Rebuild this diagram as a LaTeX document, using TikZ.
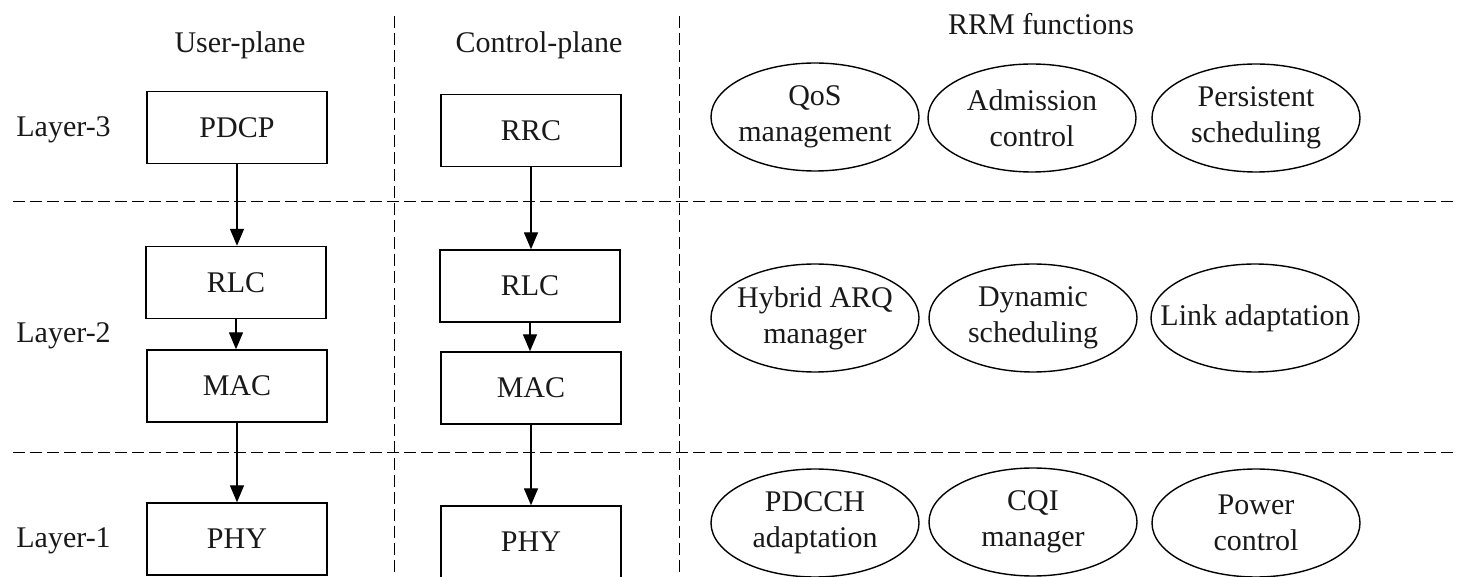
\documentclass[tikz,border=0pt]{standalone}
\usepackage{fontspec}
\setmainfont{Liberation Serif}
\usetikzlibrary{arrows.meta,shapes.geometric}
\begin{document}
\begin{tikzpicture}[x=0.5pt,y=-0.5pt,
  every node/.style={font=\fontsize{15pt}{18pt}\selectfont, text=black!90},
  lbl/.style={inner sep=0pt, text height=9.9pt, text depth=0pt},
  blk/.style={draw, line width=0.7pt, minimum width=90pt, minimum height=36pt, inner sep=0pt, text height=9.9pt, text depth=0pt},
  ell/.style={draw, ellipse, line width=0.7pt, minimum width=104pt, minimum height=54pt, inner sep=0pt},
  etxt/.style={align=center, inner sep=0pt},
  sep/.style={line width=0.5pt, dash pattern=on 6pt off 2.5pt},
  arr/.style={line width=0.7pt, -{Triangle[length=8.5pt,width=7pt]}}
]
\useasboundingbox (0,0) rectangle (1458,577);

% separators
\coordinate (v1t) at (394,16); \coordinate (v1b) at (394,577);
\coordinate (v2t) at (679,16); \coordinate (v2b) at (679,577);
\coordinate (h1l) at (13,202); \coordinate (h1r) at (1458,202);
\coordinate (h2l) at (13,453); \coordinate (h2r) at (1458,453);
\draw[sep] (v1t) -- (v1b);
\draw[sep] (v2t) -- (v2b);
\draw[sep] (h1l) -- (h1r);
\draw[sep] (h2l) -- (h2r);

% headings
\node[lbl] (up) at (240,43) {User-plane};
\node[lbl] (cp) at (539,43) {Control-plane};
\node[lbl] (rrm) at (1041,25) {RRM functions};
\node[lbl, anchor=west] (l3) at (16,127) {Layer-3};
\node[lbl, anchor=west] (l2) at (16,333) {Layer-2};
\node[lbl, anchor=west] (l1) at (16,538) {Layer-1};

% user plane
\node[blk] (pdcp) at (237,127.5) {PDCP};
\node[blk] (rlc1) at (236,282.5) {RLC};
\node[blk] (mac1) at (237,386) {MAC};
\node[blk] (phy1) at (237,539) {PHY};
% control plane
\node[blk] (rrc) at (531,130.5) {RRC};
\node[blk] (rlc2) at (530,286) {RLC};
\node[blk] (mac2) at (531,388) {MAC};
\node[blk] (phy2) at (531,542) {PHY};

\draw[arr] (pdcp.south) -- (rlc1.north -| pdcp.south);
\draw[arr] (rlc1.south) -- (mac1.north -| rlc1.south);
\draw[arr] (mac1.south) -- (phy1.north -| mac1.south);
\draw[arr] (rrc.south) -- (rlc2.north -| rrc.south);
\draw[arr] (rlc2.south) -- (mac2.north -| rlc2.south);
\draw[arr] (mac2.south) -- (phy2.north -| mac2.south);

% RRM ellipses
\node[ell] (e11) at (815,117) {};
\node[ell] (e12) at (1032,118) {};
\node[ell] (e13) at (1256,118) {};
\node[ell] (e21) at (815,318) {};
\node[ell] (e22) at (1033,318) {};
\node[ell] (e23) at (1255,318) {};
\node[ell] (e31) at (815,523) {};
\node[ell] (e32) at (1033,522) {};
\node[ell] (e33) at (1256,523) {};

\node[etxt] (t11) at (e11) {QoS\\management};
\node[etxt] (t12) at (e12) {Admission\\control};
\node[etxt] (t13) at (e13) {Persistent\\scheduling};
\node[etxt] (t21) at (e21) {Hybrid ARQ\\manager};
\node[etxt] (t22) at (e22) {Dynamic\\scheduling};
\node[etxt] (t23) at (e23) {Link adaptation};
\node[etxt] (t31) at (e31) {PDCCH\\adaptation};
\node[etxt] (t32) at (e32) {CQI\\manager};
\node[etxt] (t33) at (e33) {Power\\control};
\end{tikzpicture}
\end{document}
